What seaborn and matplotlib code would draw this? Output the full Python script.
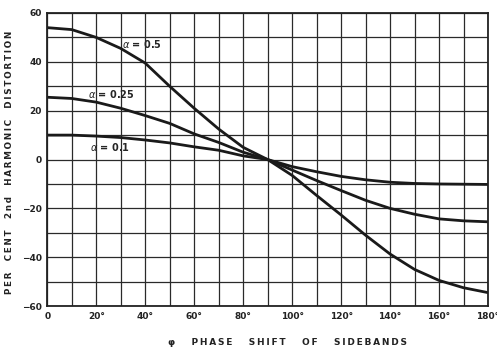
import numpy as np
import pandas as pd
import matplotlib
matplotlib.use("Agg")
import matplotlib.pyplot as plt
import seaborn as sns

# phase shift of sidebands (degrees) and distortion (%)
phase_deg = [0, 10, 20, 30, 40, 50, 60, 70, 80, 90, 100, 110, 120, 130, 140, 150, 160, 170, 180]
dist_a05 = [54, 53.2, 50, 45.5, 39.5, 30, 21, 12.5, 5, 0, -6.5, -14.7, -22.7, -31, -38.7, -45, -49.5, -52.5, -54.5]
dist_a025 = [25.5, 25, 23.5, 21, 18, 14.8, 10.5, 7, 3, 0, -4.3, -8.6, -12.7, -16.7, -20, -22.4, -24.3, -25.1, -25.5]
dist_a01 = [10, 10, 9.6, 9, 8, 6.8, 5.2, 3.8, 1.5, 0, -2.9, -5, -6.9, -8.3, -9.3, -9.8, -10, -10.1, -10.2]
alpha_names = ["0.5", "0.25", "0.1"]

y_ticks = [60, 40, 20, 0, -20, -40, -60]
y_tick_labels = ["60", "40", "20", "0", "\u221220", "\u221240", "\u221260"]
x_ticks = [0, 20, 40, 60, 80, 100, 120, 140, 160, 180]
x_tick_labels = ["0", "20\u00b0", "40\u00b0", "60\u00b0", "80\u00b0", "100\u00b0", "120\u00b0", "140\u00b0", "160\u00b0", "180\u00b0"]

df = pd.DataFrame({
    "phase": phase_deg * 3,
    "dist": dist_a05 + dist_a025 + dist_a01,
    "alpha": [alpha_names[0]] * len(phase_deg) + [alpha_names[1]] * len(phase_deg) + [alpha_names[2]] * len(phase_deg),
})

sns.set_style("white")
plt.rcParams["font.family"] = ["DejaVu Sans"]

fig = plt.figure(figsize=(4.97, 3.51), dpi=100)
ax = fig.add_axes([0.095, 0.128, 0.887, 0.835])

sns.lineplot(data=df, x="phase", y="dist", hue="alpha",
             palette=["#1a1a1a", "#1a1a1a", "#1a1a1a"], linewidth=2.0,
             legend=False, ax=ax)

ax.set_xlim(0, 180)
ax.set_ylim(-60, 60)
ax.set_xticks(np.arange(0, 181, 10), minor=True)
ax.set_yticks(np.arange(-60, 61, 10), minor=True)
ax.grid(True, which="both", color="#2a2a2a", linewidth=0.9)
ax.set_axisbelow(True)
ax.set_xticks(x_ticks)
ax.set_xticklabels(x_tick_labels)
ax.set_yticks(y_ticks)
ax.set_yticklabels(y_tick_labels)
ax.tick_params(which="both", length=0, labelsize=6.5, pad=4, colors="#222222")
for lab in ax.get_xticklabels() + ax.get_yticklabels():
    lab.set_fontweight("bold")
for s in ax.spines.values():
    s.set_color("#222222")
    s.set_linewidth(1.3)

sp = "\u2009"
ylab = "PER  CENT  2nd  HARMONIC  DISTORTION"
ylab = sp.join(ylab)
ax.set_ylabel(ylab, fontsize=6.3, fontweight="bold", color="#222222")
ax.yaxis.set_label_coords(-0.075, 0.49)
xlab = "\u03c6   PHASE   SHIFT   OF   SIDEBANDS"
xlab = sp.join(xlab)
ax.set_xlabel(xlab, fontsize=6.5, fontweight="bold", color="#222222")
ax.xaxis.set_label_coords(0.545, -0.11)

# curve labels
ax.text(30.5, 47.5, "$\\alpha$ = 0.5", fontsize=7, fontweight="bold", va="center", ha="left")
ax.text(16.5, 27, "$\\alpha$ = 0.25", fontsize=7, fontweight="bold", va="center", ha="left")
ax.text(17.5, 5, "$\\alpha$ = 0.1", fontsize=7, fontweight="bold", va="center", ha="left")

fig.savefig("out.png", dpi=100)
